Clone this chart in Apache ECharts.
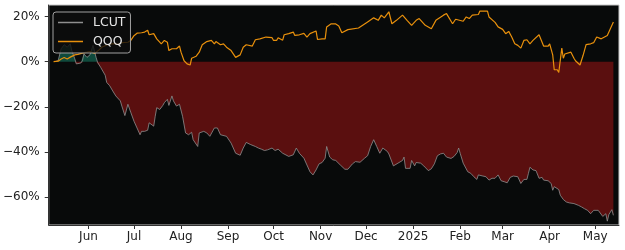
<!DOCTYPE html>
<html>
<head>
<meta charset="utf-8">
<script src="https://cdn.jsdelivr.net/npm/echarts@6/dist/echarts.min.js"></script>
<style>
html,body{margin:0;padding:0;background:#fff;}
#chart{width:625px;height:250px;}
</style>
</head>
<body>
<div id="chart"></div>
<script>
// Day offsets are days counted from 2024-06-01
const lcutDays = [-22,-20,-18,-16,-14,-12,-11,-9,-8,-5,-4,-3,-1,1,3,5,6,8,11,12,14,16,18,21,22,24,26,28,30,31,32,34,35,37,39,40,41,43,44,45,47,49,50,52,53,55,56,58,60,62,64,66,68,69,72,73,74,76,78,80,81,83,85,87,91,94,97,100,102,104,107,108,110,112,114,116,118,121,123,125,128,132,135,137,139,142,144,146,148,150,152,154,156,157,159,161,163,166,169,171,174,176,179,182,184,186,187,188,190,192,194,197,198,201,204,207,208,209,212,213,215,216,219,221,224,226,228,230,232,234,236,239,241,243,244,245,247,250,252,254,256,257,260,262,264,266,268,270,272,274,276,278,280,283,284,285,287,289,290,291,293,295,297,299,300,303,305,306,307,310,311,313,315,317,320,323,325,327,329,331,333,336,337,339,341,342,343,345,346];
const lcutValues = [0,0.4,5.7,7.5,6.4,7.9,4.9,1.2,-1.0,-0.6,0.4,3.4,1.9,3.0,7.2,1.9,-0.3,-2.5,-6.0,-9.2,-10.7,-13.0,-15.2,-17.4,-19.7,-23.9,-18.9,-22.7,-26.4,-26.8,-29.4,-32.4,-30.9,-30.9,-30.4,-27.1,-27.9,-28.6,-24.2,-20.4,-21.2,-19.4,-18.2,-16.7,-19.4,-15.2,-17.4,-19.7,-18.9,-24.2,-31.6,-32.4,-31.3,-34.6,-37.6,-31.6,-31.3,-30.9,-31.6,-33.1,-33.5,-29.4,-29.4,-32.4,-33.1,-36.1,-40.6,-41.5,-38.3,-35.8,-36.8,-36.1,-37.6,-38.3,-38.8,-39.4,-39.1,-38.3,-39.4,-38.8,-40.6,-42.0,-41.3,-38.3,-40.6,-42.8,-45.8,-48.8,-50.2,-48.0,-45.3,-44.7,-42.8,-37.6,-42.3,-43.5,-43.8,-45.8,-47.7,-47.7,-45.3,-44.3,-44.6,-42.8,-41.7,-37.6,-38.3,-34.6,-37.6,-40.6,-38.3,-39.8,-40.9,-46.2,-45.0,-43.8,-42.3,-47.3,-47.3,-43.8,-46.2,-44.7,-45.0,-46.2,-48.3,-47.5,-45.3,-41.7,-40.9,-40.6,-42.3,-42.9,-42.0,-40.3,-38.3,-40.6,-45.0,-48.8,-49.5,-51.0,-52.2,-50.2,-50.7,-51.0,-52.5,-51.7,-51.7,-50.2,-52.8,-53.2,-53.7,-51.3,-50.7,-51.0,-50.7,-54.0,-52.2,-52.2,-49.5,-46.8,-48.0,-48.3,-51.7,-51.3,-52.5,-52.8,-54.0,-57.0,-55.4,-56.7,-59.2,-61.1,-62.2,-62.6,-62.9,-63.7,-64.4,-65.2,-65.9,-67.4,-65.9,-65.9,-66.6,-68.6,-67.4,-70.7,-67.8,-65.6,-68.1];

const qqqDays = [-23,-20,-18,-16,-14,-12,-9,-7,-4,-1,1,4,7,9,12,16,20,22,26,28,30,32,35,37,39,40,43,45,48,50,52,53,55,58,60,61,63,65,67,68,71,73,75,78,81,83,84,87,89,91,94,97,100,102,104,108,110,113,117,121,122,124,125,128,129,132,135,136,139,142,144,146,150,151,154,156,157,160,163,165,167,171,178,184,188,191,193,195,198,200,203,207,210,213,216,218,222,226,229,234,236,240,242,247,249,251,253,257,258,263,264,268,270,273,275,277,279,281,283,285,287,289,291,293,297,300,303,304,306,307,309,310,311,312,313,314,318,320,321,324,326,328,331,333,335,338,339,342,344,346];
const qqqValues = [0,0.2,1.2,1.8,1.2,2.0,3.0,3.2,3.8,4.2,4.5,3.6,5.2,6.5,7.3,8.0,7.8,8.4,8.6,9.5,11.5,12.6,12.8,13.1,13.9,11.9,12.4,10.1,7.9,9.4,8.6,4.9,5.7,5.7,6.9,4.2,0.4,-1.0,-1.5,1.5,2.4,4.2,7.5,8.9,9.4,7.9,8.9,7.5,7.9,6.4,4.9,1.9,3.0,6.4,7.5,6.9,9.7,10.1,10.9,10.6,9.4,9.4,10.6,9.5,11.9,12.4,13.1,11.6,11.9,12.5,10.9,12.4,13.6,9.8,10.1,10.1,15.4,16.8,16.7,15.8,12.8,14.2,14.9,17.6,19.4,18.3,20.6,19.4,22.1,16.8,18.3,20.6,18.3,16.1,18.3,19.1,16.1,14.6,18.3,20.6,21.3,16.8,18.8,17.9,19.8,19.1,20.6,20.9,22.4,22.4,19.8,17.4,15.4,14.3,12.4,13.4,10.9,7.9,7.2,6.0,9.4,9.7,7.9,9.4,11.9,6.9,6.9,7.9,3.0,-3.6,-3.6,-4.8,-5.5,6.0,1.5,3.4,4.2,1.5,0.4,-1.5,2.7,7.5,7.9,8.4,10.9,10.1,9.7,11.6,14.6,17.6];

const tickMonths = [[2024,5],[2024,6],[2024,7],[2024,8],[2024,9],[2024,10],[2024,11],[2025,0],[2025,1],[2025,2],[2025,3],[2025,4]];
const tickLabels = ['Jun','Jul','Aug','Sep','Oct','Nov','Dec','2025','Feb','Mar','Apr','May'];
const yTicks = [-60,-40,-20,0,20];

const DAY = 86400000;
const BASE = Date.UTC(2024,5,1);
const ts = d => BASE + d*DAY;
const tickValues = tickMonths.map(m => Date.UTC(m[0], m[1], 1));

const lcutData = lcutDays.map((d,i) => [ts(d), lcutValues[i]]);
const qqqData = qqqDays.map((d,i) => [ts(d), qqqValues[i]]);

// split LCUT into below-zero and above-zero parts (with zero crossings) for the fills
const negData = [], posData = [];
for (let i = 0; i < lcutDays.length; i++) {
  const d = lcutDays[i], v = lcutValues[i];
  if (i > 0) {
    const d0 = lcutDays[i-1], v0 = lcutValues[i-1];
    if ((v0 < 0 && v > 0) || (v0 > 0 && v < 0)) {
      const t = d0 + (d - d0) * (0 - v0) / (v - v0);
      negData.push([ts(t), 0]);
      posData.push([ts(t), 0]);
    }
  }
  negData.push([ts(d), Math.min(v, 0)]);
  posData.push([ts(d), Math.max(v, 0)]);
}

const fmtPct = v => (v < 0 ? '\u2212' + (-v) : '' + v) + '%';
const LCUT_COLOR = '#8f8f8f', QQQ_COLOR = '#e8900c';

const chart = echarts.init(document.getElementById('chart'), null, {renderer: 'canvas'});
chart.setOption({
  animation: false,
  backgroundColor: '#ffffff',
  textStyle: {fontFamily: 'DejaVu Sans'},
  grid: {left: 46, top: 5, width: 573, height: 220, show: true, backgroundColor: '#080a0a', borderColor: '#c8c8c8', borderWidth: 1},
  legend: {
    data: [
      {name: 'LCUT', icon: 'rect', itemStyle: {color: LCUT_COLOR}},
      {name: 'QQQ', icon: 'rect', itemStyle: {color: QQQ_COLOR}}
    ],
    orient: 'vertical',
    left: 53, top: 12,
    padding: [4, 5, 5, 5],
    itemWidth: 25, itemHeight: 1.5, itemGap: 6,
    backgroundColor: 'rgba(12,12,12,0.8)',
    borderColor: '#a0a0a0', borderWidth: 1, borderRadius: 3,
    textStyle: {color: '#e6e6e6', fontSize: 12.5, fontFamily: 'DejaVu Sans', padding: [0, 0, 0, 5]}
  },
  xAxis: {
    type: 'value',
    min: ts(-26.2), max: ts(349.7),
    axisLine: {show: true, onZero: false, lineStyle: {color: '#333', width: 1}},
    axisTick: {show: true, length: 4, inside: false, customValues: tickValues, lineStyle: {color: '#333'}},
    axisLabel: {
      customValues: tickValues, margin: 6, color: '#222', fontSize: 12, fontFamily: 'DejaVu Sans',
      formatter: v => { const i = tickValues.indexOf(v); return i >= 0 ? tickLabels[i] : ''; }
    },
    splitLine: {show: false}
  },
  yAxis: {
    type: 'value',
    min: -72.4, max: 25.1,
    axisLine: {show: true, lineStyle: {color: '#333', width: 1}},
    axisTick: {show: true, length: 4, customValues: yTicks, lineStyle: {color: '#333'}},
    axisLabel: {customValues: yTicks, margin: 9, color: '#222', fontSize: 12, fontFamily: 'DejaVu Sans', formatter: fmtPct},
    splitLine: {show: false}
  },
  series: [
    {name: 'neg', type: 'line', data: negData, symbol: 'none', silent: true, z: 1,
     lineStyle: {width: 0, opacity: 0}, areaStyle: {color: '#5a0f0f', opacity: 1}},
    {name: 'pos', type: 'line', data: posData, symbol: 'none', silent: true, z: 1,
     lineStyle: {width: 0, opacity: 0}, areaStyle: {color: '#0f4a3c', opacity: 1}},
    {name: 'LCUT', type: 'line', data: lcutData, symbol: 'none', z: 3,
     lineStyle: {color: LCUT_COLOR, width: 0.8}, itemStyle: {color: LCUT_COLOR}},
    {name: 'QQQ', type: 'line', data: qqqData, symbol: 'none', z: 3,
     lineStyle: {color: QQQ_COLOR, width: 1.2}, itemStyle: {color: QQQ_COLOR}}
  ]
});
</script>
</body>
</html>
